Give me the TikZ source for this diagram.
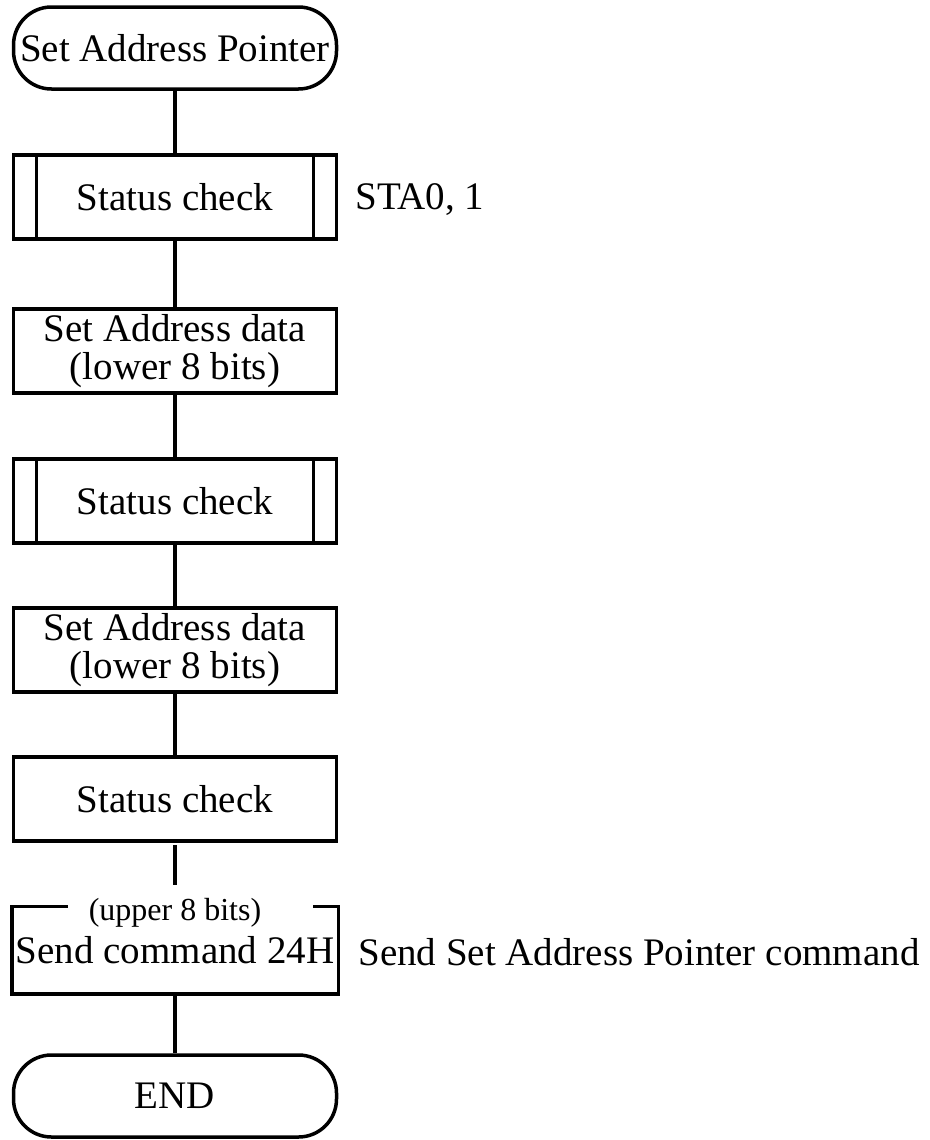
\documentclass[tikz,border=0pt]{standalone}
\usepackage{fontspec}
\setmainfont{Liberation Serif}
\newlength{\du}
\setlength{\du}{0.5pt}

\tikzset{
  flowline/.style={line width=3.5\du},
  terminal/.style={draw, flowline, rounded corners=38\du, minimum width=323\du, minimum height=82\du, inner sep=0pt},
  procbox/.style={draw, flowline, minimum width=323\du, minimum height=84\du, inner sep=0pt, align=center},
  subproc/.style={procbox, path picture={
    \draw[flowline] ([xshift=23\du]path picture bounding box.north west) -- ([xshift=23\du]path picture bounding box.south west);
    \draw[flowline] ([xshift=-23\du]path picture bounding box.north east) -- ([xshift=-23\du]path picture bounding box.south east);}},
  note/.style={anchor=west, inner sep=0pt},
}

\begin{document}
\begin{tikzpicture}[x=\du, y=\du, yscale=-1, font=\fontsize{19.5}{19}\selectfont]
\useasboundingbox (0,0) rectangle (930,1140);
% flow boxes
\node[terminal] (start) at (175,48) {Set Address Pointer};
\node[subproc] (chk1) at (175,197) {Status check};
\node[note] (sta) at (355,200) {STA0, 1};
\node[procbox] (lo1) at (175,351) {Set Address data\\(lower 8 bits)};
\node[subproc] (chk2) at (175,501) {Status check};
\node[procbox] (lo2) at (175,650) {Set Address data\\(lower 8 bits)};
\node[procbox] (chk3) at (175,799) {Status check};
\node[procbox, draw=none] (cmd) at (175,950) {Send command 24H};
\node[font=\fontsize{16}{16}\selectfont, inner sep=0pt] (upper) at (175,913) {(upper 8 bits)};
\node[note] (cmdnote) at (358,952) {Send Set Address Pointer command};
\node[terminal] (end) at (175,1096) {END};
% open box round the command
\draw[flowline] ([xshift=56\du]cmd.north west) -- (cmd.north west) -- (cmd.south west)
  -- (cmd.south east) -- (cmd.north east) -- ([xshift=-25\du]cmd.north east);
% connectors
\coordinate (gaptop) at (175,845);
\coordinate (gapbot) at (175,885);
\draw[flowline] (start) -- (chk1);
\draw[flowline] (chk1) -- (lo1);
\draw[flowline] (lo1) -- (chk2);
\draw[flowline] (chk2) -- (lo2);
\draw[flowline] (lo2) -- (chk3);
\draw[flowline] (gaptop) -- (gapbot);
\draw[flowline] (cmd) -- (end);
\end{tikzpicture}
\end{document}
